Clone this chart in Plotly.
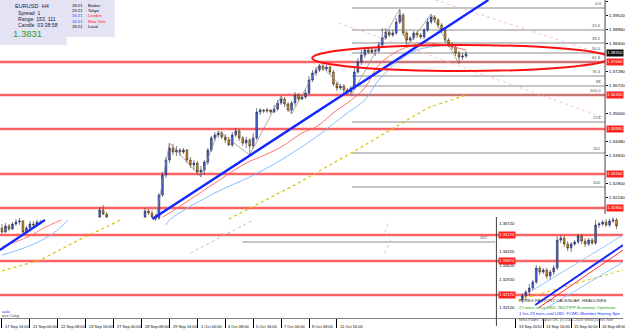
import plotly.graph_objects as go

# ---------------- main chart data (EURUSD H4) ----------------
main_bars = list(range(0, 12)) + [28, 29, 30] + list(range(41, 134))
main_open = [1.3100,1.3084,1.3108,1.3096,1.3116,1.3124,1.3128,1.3084,1.3100,1.3116,1.3112,1.3124,
             1.3144,1.3172,1.3156,
             1.3144,1.3168,1.3160,1.3144,1.3140,1.3232,1.3312,1.3372,1.3420,1.3404,1.3412,1.3404,1.3412,1.3372,
             1.3352,1.3360,1.3324,1.3332,1.3364,1.3412,1.3460,1.3472,1.3480,1.3464,1.3452,1.3432,1.3472,1.3488,
             1.3460,1.3440,1.3452,1.3428,1.3460,1.3564,1.3572,1.3568,1.3572,1.3564,1.3576,1.3600,1.3616,1.3596,
             1.3572,1.3600,1.3632,1.3616,1.3624,1.3640,1.3692,1.3720,1.3732,1.3748,1.3736,1.3744,1.3724,1.3676,
             1.3660,1.3668,1.3652,1.3644,1.3660,1.3724,1.3764,1.3792,1.3812,1.3804,1.3812,1.3808,1.3832,1.3860,
             1.3884,1.3872,1.3880,1.3924,1.3952,1.3880,1.3852,1.3860,1.3880,1.3872,1.3864,1.3892,1.3924,1.3944,
             1.3932,1.3912,1.3892,1.3852,1.3836,1.3824,1.3800,1.3784,1.3788]
main_high = [1.3116,1.3120,1.3116,1.3124,1.3136,1.3140,1.3132,1.3108,1.3128,1.3128,1.3132,1.3132,
             1.3184,1.3192,1.3164,
             1.3180,1.3176,1.3172,1.3156,1.3240,1.3324,1.3384,1.3440,1.3436,1.3428,1.3420,1.3420,1.3416,1.3384,
             1.3372,1.3368,1.3348,1.3372,1.3420,1.3468,1.3484,1.3488,1.3488,1.3476,1.3464,1.3484,1.3500,1.3496,
             1.3468,1.3464,1.3460,1.3480,1.3580,1.3580,1.3576,1.3580,1.3576,1.3592,1.3612,1.3628,1.3624,1.3604,
             1.3608,1.3644,1.3640,1.3632,1.3652,1.3708,1.3732,1.3744,1.3756,1.3756,1.3752,1.3748,1.3732,1.3684,
             1.3676,1.3676,1.3660,1.3668,1.3740,1.3780,1.3812,1.3824,1.3820,1.3820,1.3816,1.3844,1.3900,1.3900,
             1.3892,1.3892,1.3940,1.3976,1.3960,1.3888,1.3868,1.3888,1.3888,1.3880,1.3900,1.3940,1.3956,1.3952,
             1.3940,1.3920,1.3900,1.3860,1.3844,1.3832,1.3808,1.3800,1.3808]
main_low = [1.3076,1.3080,1.3088,1.3092,1.3108,1.3112,1.3076,1.3076,1.3096,1.3104,1.3108,1.3116,
            1.3140,1.3152,1.3140,
            1.3140,1.3152,1.3140,1.3128,1.3132,1.3224,1.3300,1.3360,1.3392,1.3388,1.3388,1.3396,1.3360,1.3340,
            1.3332,1.3312,1.3304,1.3312,1.3352,1.3404,1.3448,1.3460,1.3456,1.3440,1.3428,1.3424,1.3464,1.3448,
            1.3428,1.3420,1.3392,1.3416,1.3452,1.3552,1.3560,1.3560,1.3556,1.3560,1.3568,1.3592,1.3584,1.3564,
            1.3556,1.3588,1.3608,1.3612,1.3616,1.3632,1.3684,1.3708,1.3724,1.3728,1.3728,1.3712,1.3668,1.3648,
            1.3652,1.3640,1.3632,1.3628,1.3652,1.3716,1.3752,1.3780,1.3796,1.3796,1.3788,1.3800,1.3824,1.3852,
            1.3864,1.3864,1.3872,1.3916,1.3868,1.3824,1.3844,1.3852,1.3860,1.3856,1.3856,1.3884,1.3916,1.3920,
            1.3900,1.3880,1.3840,1.3824,1.3812,1.3788,1.3756,1.3772,1.3780]
main_close = [1.3084,1.3108,1.3096,1.3116,1.3124,1.3128,1.3084,1.3100,1.3116,1.3112,1.3124,1.3120,
              1.3172,1.3156,1.3144,
              1.3168,1.3160,1.3144,1.3136,1.3232,1.3312,1.3372,1.3420,1.3404,1.3412,1.3404,1.3412,1.3372,1.3352,
              1.3360,1.3324,1.3332,1.3364,1.3412,1.3460,1.3472,1.3480,1.3464,1.3452,1.3432,1.3472,1.3488,1.3460,
              1.3440,1.3452,1.3428,1.3460,1.3564,1.3572,1.3568,1.3572,1.3564,1.3576,1.3600,1.3616,1.3596,1.3572,
              1.3600,1.3632,1.3616,1.3624,1.3640,1.3692,1.3720,1.3732,1.3748,1.3736,1.3744,1.3724,1.3676,1.3660,
              1.3668,1.3652,1.3644,1.3660,1.3724,1.3764,1.3792,1.3812,1.3804,1.3812,1.3808,1.3832,1.3860,1.3884,
              1.3872,1.3880,1.3924,1.3952,1.3880,1.3852,1.3860,1.3880,1.3872,1.3864,1.3892,1.3924,1.3944,1.3932,
              1.3912,1.3892,1.3852,1.3836,1.3824,1.3800,1.3784,1.3788,1.3796]

date_ticks = [0, 8, 16, 24, 32, 40, 48, 56, 64, 72, 80, 88, 96]
date_labels = ["17 Sep 16:00", "21 Sep 00:00", "22 Sep 08:00", "23 Sep 16:00", "27 Sep 00:00",
               "28 Sep 08:00", "29 Sep 16:00", "1 Oct 00:00", "4 Oct 08:00", "5 Oct 16:00",
               "7 Oct 00:00", "8 Oct 08:00", "11 Oct 16:00"]
price_ticks = [1.4008,1.3952,1.3896,1.3840,1.3728,1.3672,1.3560,
               1.3448,1.3392,1.3280,1.3224]

# moving averages / indicator lines (bar, price)
ma_red_bars = [46,48,55,61,70,74,80,86,90,96,99,104,108,114,121,128,133]
ma_red_vals = [1.3144,1.3160,1.3224,1.3280,1.3360,1.3384,1.3424,1.3480,1.3504,1.3572,1.3600,
               1.3660,1.3752,1.3812,1.3840,1.3828,1.3812]
ma_blue_bars = [47,48,61,71,80,90,99,104,108,114,119,125,133]
ma_blue_vals = [1.3112,1.3132,1.3240,1.3304,1.3372,1.3464,1.3560,1.3612,1.3692,1.3772,1.3812,1.3828,1.3832]
ma_red_left_bars = [0, 8, 12, 17]
ma_red_left_vals = [1.3024, 1.3068, 1.3100, 1.3132]
ma_blue_left_bars = [0, 7, 14, 19]
ma_blue_left_vals = [1.2992, 1.3024, 1.3072, 1.3132]
yellow_bars = [65, 85, 105, 122, 133]
yellow_vals = [1.3136, 1.3280, 1.3440, 1.3580, 1.3632]
yellow_left_bars = [0, 11, 22, 34]
yellow_left_vals = [1.2928, 1.2972, 1.3052, 1.3132]
lav_bars = [54, 72]
lav_vals = [1.3000, 1.3132]
lav2_bars = [109.7, 111.4, 109.7, 111.1]
lav2_vals = [1.3000, 1.3052, 1.3084, 1.3132]

trend1_bars = [43.1, 139.4]
trend1_vals = [1.3136, 1.4012]
trend2_bars = [-0.6, 12.3]
trend2_vals = [1.3012, 1.3132]
pink1_bars = [96.6, 172.9]
pink1_vals = [1.3920, 1.3540]
pink2_bars = [124.3, 172.9]
pink2_vals = [1.4012, 1.3792]

zigzag_pts = [(44,'L'),(48,'H'),(57,'L'),(62,'H'),(71,'L'),(80,'H'),(83,'L'),(91,'H'),
              (100,'L'),(114,'H'),(116,'L'),(123,'H'),(131,'L')]

red_levels_upper = [1.3764, 1.3632, 1.3496, 1.3316, 1.3180]
red_levels_lower = [1.3072, 1.2968, 1.2832]
fib_prices = [1.3980,1.3892,1.3840,1.3800,1.3764,1.3708,1.3668,1.3632,1.3524,1.3400,1.3264]
fib_labels = ["0.0","23.6","38.2","50.0","61.8","76.4","88","100.0","123","162","200"]
fib262_price = 1.3044
ellipse_bars = [88.9, 174.3]
ellipse_vals = [1.3832, 1.3728]
bid_price = 1.3800

# ---------------- inset chart data ----------------
in_bars = list(range(2, 30))
in_open = [1.3192,1.3212,1.3232,1.3252,1.3282,1.3352,1.3332,1.3342,1.3312,1.3332,1.3352,1.3492,1.3502,1.3472,
           1.3452,1.3472,1.3482,1.3512,1.3487,1.3472,1.3492,1.3477,1.3567,1.3572,1.3582,1.3567,1.3587,1.3592]
in_high = [1.3227,1.3242,1.3272,1.3292,1.3367,1.3362,1.3352,1.3352,1.3342,1.3367,1.3512,1.3517,1.3512,1.3487,
           1.3482,1.3492,1.3522,1.3522,1.3502,1.3502,1.3502,1.3592,1.3582,1.3592,1.3597,1.3597,1.3607,1.3602]
in_low = [1.3177,1.3192,1.3217,1.3237,1.3272,1.3317,1.3322,1.3297,1.3292,1.3317,1.3342,1.3477,1.3457,1.3437,
          1.3432,1.3462,1.3472,1.3472,1.3457,1.3462,1.3467,1.3467,1.3552,1.3562,1.3557,1.3557,1.3577,1.3547]
in_close = [1.3212,1.3232,1.3252,1.3282,1.3352,1.3332,1.3342,1.3312,1.3332,1.3352,1.3492,1.3502,1.3472,1.3452,
            1.3472,1.3482,1.3512,1.3487,1.3472,1.3492,1.3477,1.3567,1.3572,1.3582,1.3567,1.3587,1.3592,1.3562]
in_date_ticks = [0, 8, 16, 24]
in_date_labels = ["13 Sep 2010", "13 Sep 16:00", "15 Sep 00:00", "16 Sep 08:00"]
in_price_ticks = [1.3572, 1.3432, 1.3362, 1.3292, 1.3152]
in_red_levels = [1.3517, 1.3387, 1.3217]
in_blue_trend = ([5.7, 30.9], [1.3167, 1.3467])
in_red_line = ([6.6, 30.9], [1.3152, 1.3442])
in_lb_upper = ([5.1, 30.9], [1.3242, 1.3517])
in_lb_lower = ([8.0, 30.9], [1.3142, 1.3382])
in_yellow = ([0.9, 30.9], [1.3192, 1.3342])

news_lines = ["FOREX FACTORY CALENDAR  HEADLINES",
              "21 mins since USD: ISD/TIPP Economic Optimism",
              "1 hrs 23 mins until USD: FOMC Member Hoenig Spe",
              "MetaTrader - Alpari UK, (c) 2001-2009 MetaQuotes Soft"]

# ---------------- figure ----------------
W, H = 625, 332
def px(x): return x / W
def py(y): return 1 - y / H

FONT = "Liberation Sans"
fig = go.Figure()

candle_style = dict(
    increasing=dict(fillcolor="#3f63e0", line=dict(color="#2a2a50", width=0.6)),
    decreasing=dict(fillcolor="#dc8c2c", line=dict(color="#40300a", width=0.6)),
    whiskerwidth=0, hoverinfo="skip", showlegend=False)

def line(xs, ys, color, width, dash="solid", xa="x", ya="y", shape="linear"):
    fig.add_trace(go.Scatter(x=xs, y=ys, mode="lines", xaxis=xa, yaxis=ya,
                             line=dict(color=color, width=width, dash=dash, shape=shape),
                             hoverinfo="skip", showlegend=False))

# indicator lines under candles
line(pink1_bars, pink1_vals, "#f4b0c8", 0.8, "dot")
line(pink2_bars, pink2_vals, "#f4b0c8", 0.8, "dot")
line(yellow_left_bars, yellow_left_vals, "#d8c400", 1.2, "dot")
line(yellow_bars, yellow_vals, "#d8c400", 1.2, "dot")
line(lav_bars, lav_vals, "#b8b8d8", 1.0, "dot")
line(lav2_bars, lav2_vals, "#c0c0d8", 0.8, "dot")
line(ma_red_left_bars, ma_red_left_vals, "#ff7070", 0.9, shape="spline")
line(ma_blue_left_bars, ma_blue_left_vals, "#7ab8ff", 0.9, shape="spline")
line(ma_red_bars, ma_red_vals, "#ff6060", 0.9, shape="spline")
line(ma_blue_bars, ma_blue_vals, "#78b4ff", 0.9, shape="spline")

# zigzag
zx, zy = [], []
for b, kind in zigzag_pts:
    i = main_bars.index(b)
    zx.append(b)
    zy.append(main_high[i] if kind == 'H' else main_low[i])
line(zx, zy, "#8a8a8a", 0.7)

fig.add_trace(go.Candlestick(x=main_bars, open=main_open, high=main_high, low=main_low,
                             close=main_close, xaxis="x", yaxis="y", **candle_style))

line(trend1_bars, trend1_vals, "#1428ff", 2.4)
line(trend2_bars, trend2_vals, "#1428ff", 2.4)

# inset traces
line(*in_yellow, "#d8c400", 1.0, "dot", xa="x2", ya="y2")
line(*in_lb_upper, "#88c0ff", 0.9, xa="x2", ya="y2")
line(*in_lb_lower, "#88c0ff", 0.9, xa="x2", ya="y2")
line(*in_red_line, "#ff3030", 1.0, xa="x2", ya="y2")
fig.add_trace(go.Candlestick(x=in_bars, open=in_open, high=in_high, low=in_low,
                             close=in_close, xaxis="x2", yaxis="y2", **candle_style))
line(*in_blue_trend, "#1428ff", 2.0, xa="x2", ya="y2")

shapes = []
# red horizontal levels
for p in red_levels_upper:
    shapes.append(dict(type="line", xref="paper", yref="y", x0=0, x1=px(607), y0=p, y1=p,
                       line=dict(color="#ffb4b4", width=3.2), layer="below"))
    shapes.append(dict(type="line", xref="paper", yref="y", x0=0, x1=px(607), y0=p, y1=p,
                       line=dict(color="#ff1010", width=1.2), layer="below"))
for p in red_levels_lower:
    shapes.append(dict(type="line", xref="paper", yref="y", x0=0, x1=1, y0=p, y1=p,
                       line=dict(color="#ffb4b4", width=3.2), layer="below"))
    shapes.append(dict(type="line", xref="paper", yref="y", x0=0, x1=1, y0=p, y1=p,
                       line=dict(color="#ff1010", width=1.2), layer="below"))
# fibonacci lines
fib_x0 = 100.3
for p in fib_prices:
    shapes.append(dict(type="line", xref="x", yref="y", x0=fib_x0, x1=172.9, y0=p, y1=p,
                       line=dict(color="#8c8c8c", width=1), layer="below"))
shapes.append(dict(type="line", xref="x", yref="y", x0=68.9, x1=141.4, y0=fib262_price, y1=fib262_price,
                   line=dict(color="#8c8c8c", width=1), layer="below"))
# ellipse
shapes.append(dict(type="circle", xref="x", yref="y", x0=ellipse_bars[0], x1=ellipse_bars[1],
                   y0=ellipse_vals[0], y1=ellipse_vals[1], line=dict(color="#ff1010", width=2)))
# axis frame lines
shapes.append(dict(type="line", xref="paper", yref="paper", x0=px(607), x1=px(607), y0=py(0), y1=py(214),
                   line=dict(color="#404040", width=1)))
shapes.append(dict(type="line", xref="paper", yref="paper", x0=px(498), x1=px(498), y0=py(217), y1=py(326),
                   line=dict(color="#404040", width=1)))
shapes.append(dict(type="line", xref="paper", yref="paper", x0=0, x1=1, y0=py(318.5), y1=py(318.5),
                   line=dict(color="#606060", width=0.8)))
# info box
shapes.append(dict(type="rect", xref="paper", yref="paper", x0=0, x1=px(115), y0=py(0), y1=py(37),
                   fillcolor="#e3e3f3", line=dict(width=0), layer="above"))
shapes.append(dict(type="rect", xref="paper", yref="paper", x0=0, x1=px(67), y0=py(37), y1=py(45),
                   fillcolor="#e3e3f3", line=dict(width=0), layer="above"))

ann = []
def text(x, y, t, size=4.6, color="#000000", xanchor="left", xref="paper", yref="paper", **kw):
    ann.append(dict(x=x, y=y, xref=xref, yref=yref, text=t, showarrow=False, xanchor=xanchor,
                    yanchor=kw.pop("yanchor", "middle"), font=dict(family=FONT, size=size, color=color), **kw))

# fib labels
for p, lab in zip(fib_prices, fib_labels):
    text(172.3, p, lab, 4.2, "#505050", xanchor="right", xref="x", yref="y", yanchor="bottom")
text(140.0, fib262_price, "262", 4.2, "#505050", xanchor="right", xref="x", yref="y", yanchor="bottom")

# price labels on main axis
for p in red_levels_upper:
    text(px(608), p, f"{p:.5f}", 4.2, "#ffffff", yref="y", bgcolor="#ff2020", borderpad=0.3)
text(px(608), bid_price, "1.38310", 4.2, "#ffffff", yref="y", bgcolor="#101010", borderpad=0.3)
for p in in_red_levels:
    text(px(499.5), p, f"{p:.5f}", 4.2, "#ffffff", yref="y2", bgcolor="#ff2020", borderpad=0.3)

# date labels
for b, lab in zip(date_ticks, date_labels):
    text(b, py(326), lab, 4.0, xref="x", xshift=1.2)
for b, lab in zip(in_date_ticks, in_date_labels):
    text(b, py(326), lab, 4.0, xref="x2", xshift=1.2)

# info box texts
text(px(13), py(6), "EURUSD  H4", 5.6, "#1a1a40")
text(px(16), py(12.5), "Spread  1", 5.2, "#1a1a40")
text(px(16), py(19), "Range  153, 111", 5.2, "#1a1a40")
text(px(16), py(25.5), "Candle  03:38:58", 5.2, "#1a1a40")
text(px(11), py(34), "1.3831", 9.5, "#2e9e2e")
for yy, tm, tcol, nm, ncol in [(5.5, "18:21", "#000000", "Broker", "#000000"),
                               (10.7, "23:21", "#000000", "Tokyo", "#000000"),
                               (15.9, "16:21", "#2040ff", "London", "#ff2020"),
                               (21.1, "16:21", "#2040ff", "New York", "#ff2020"),
                               (26.3, "18:21", "#000000", "Local", "#000000")]:
    text(px(70), py(yy), tm, 4.2, tcol)
    text(px(86), py(yy), nm, 4.2, ncol)

# news texts in inset
text(px(519), py(300), news_lines[0], 4.3, "#303030")
text(px(519), py(307), news_lines[1], 4.3, "#20a020")
text(px(519), py(313.5), news_lines[2], 4.3, "#2030ff")
text(px(519), py(319.5), news_lines[3], 3.8, "#606060")
text(0, py(311.5), "salo", 4.2, "#2030ff")
text(0, py(315.5), "ase Corp.", 4.2, "#404040")

axis_common = dict(showgrid=False, zeroline=False, showline=False, fixedrange=True)
fig.update_layout(
    width=W, height=H, margin=dict(l=0, r=0, t=0, b=0),
    paper_bgcolor="white", plot_bgcolor="rgba(0,0,0,0)", showlegend=False,
    font=dict(family=FONT, size=5, color="#000"),
    xaxis=dict(domain=[0, px(607)], range=[-2 / 3.5, 605 / 3.5], tickvals=date_ticks,
               showticklabels=False, ticks="outside", ticklen=9, tickcolor="#000", tickwidth=0.8,
               rangeslider=dict(visible=False), **axis_common),
    yaxis=dict(domain=[14 / H, 1], range=[1.2740, 1.4012], side="right", tickvals=price_ticks,
               ticktext=[f"{v:.5f}" for v in price_ticks], ticks="outside", ticklen=2, tickcolor="#000",
               tickfont=dict(family=FONT, size=4.4, color="#000"), **axis_common),
    xaxis2=dict(domain=[px(517), 1], range=[0, (625 - 517) / 3.5], anchor="y2", tickvals=in_date_ticks,
                showticklabels=False, ticks="outside", ticklen=9, tickcolor="#000", tickwidth=0.8,
                rangeslider=dict(visible=False), **axis_common),
    yaxis2=dict(domain=[14 / H, 1 - 215 / H], range=[1.3102, 1.3617], anchor="x2", side="left",
                tickvals=in_price_ticks, ticktext=[f"{v:.5f}" for v in in_price_ticks], ticks="",
                tickfont=dict(family=FONT, size=4.2, color="#000"), **axis_common),
    shapes=shapes, annotations=ann,
)

fig.write_html("out.html")
